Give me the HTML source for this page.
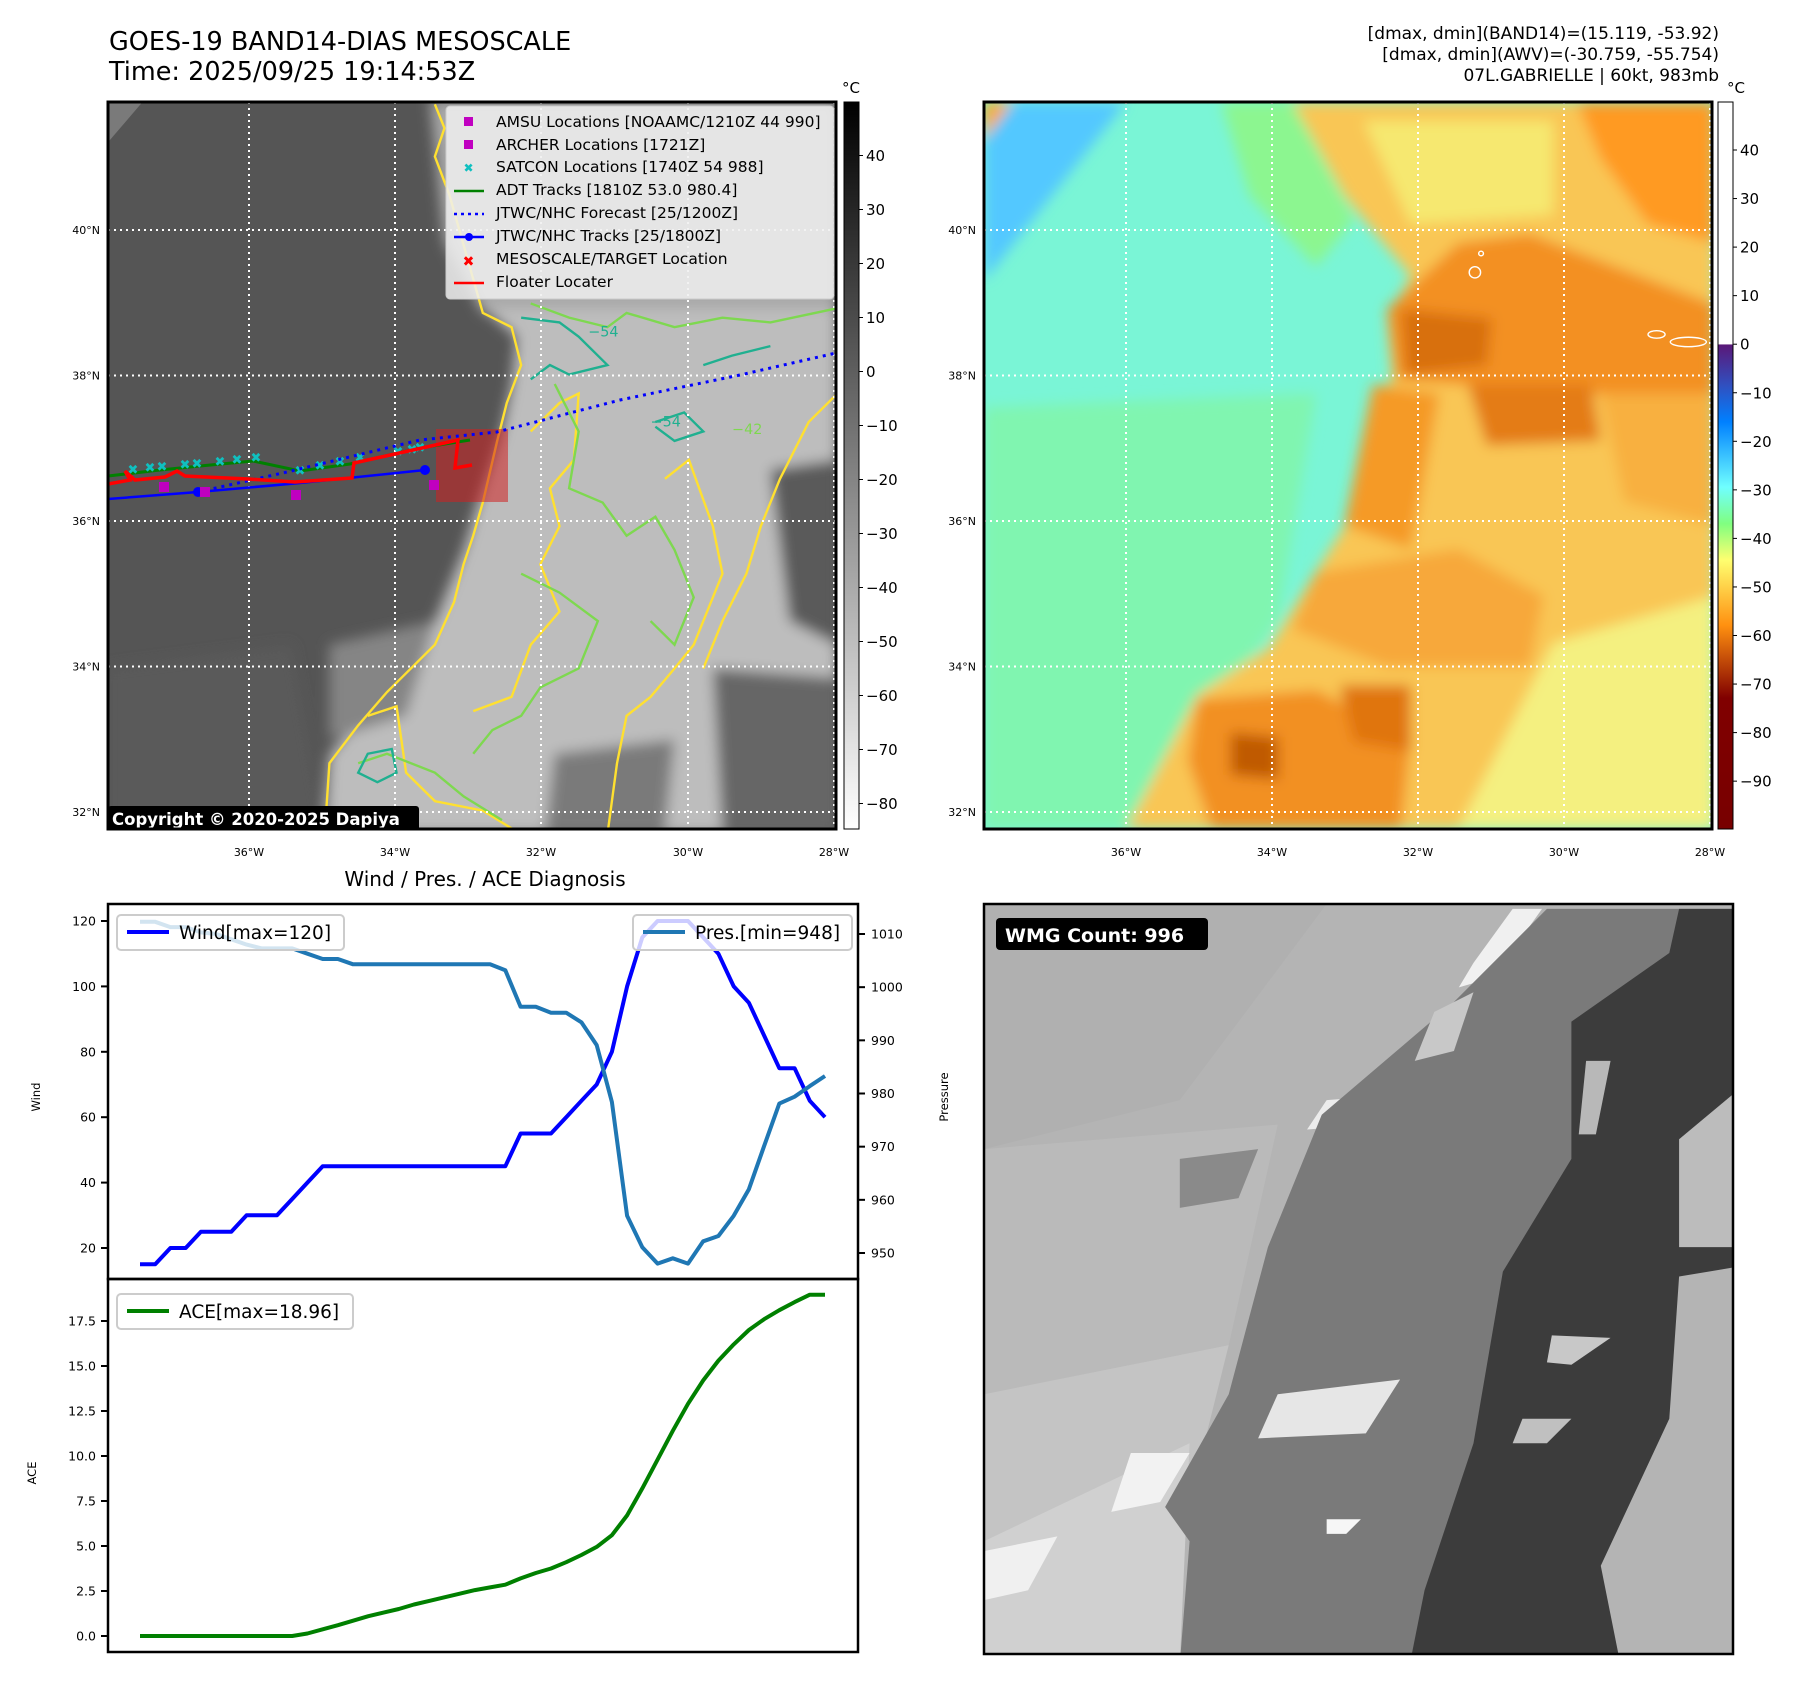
<!DOCTYPE html>
<html><head><meta charset="utf-8">
<style>
html,body{margin:0;padding:0;background:#fff;}
svg{display:block;font-family:"DejaVu Sans","Liberation Sans",sans-serif;}
</style></head>
<body>
<svg id="fig" width="1801" height="1690" viewBox="0 0 1801 1690" xmlns="http://www.w3.org/2000/svg">
<defs>
  <clipPath id="c1"><rect x="108" y="102" width="728" height="727"/></clipPath>
  <clipPath id="c2"><rect x="984" y="102" width="728" height="727"/></clipPath>
  <clipPath id="c3"><rect x="984" y="904" width="749" height="750"/></clipPath>
  <filter id="blur6" x="-20%" y="-20%" width="140%" height="140%"><feGaussianBlur stdDeviation="14"/></filter>
  <linearGradient id="cb1g" x1="0" y1="0" x2="0" y2="1">
    <stop offset="0" stop-color="#000"/><stop offset="1" stop-color="#fff"/>
  </linearGradient>
  <linearGradient id="cb2g" x1="0" y1="0" x2="0" y2="1">
    <stop offset="0" stop-color="#fff"/>
    <stop offset="0.333" stop-color="#fff"/>
    <stop offset="0.334" stop-color="#5a1878"/>
    <stop offset="0.39" stop-color="#3050c0"/>
    <stop offset="0.44" stop-color="#0080ff"/>
    <stop offset="0.53" stop-color="#70ffff"/>
    <stop offset="0.58" stop-color="#80ff80"/>
    <stop offset="0.63" stop-color="#ffff70"/>
    <stop offset="0.72" stop-color="#ff9010"/>
    <stop offset="0.82" stop-color="#800000"/>
    <stop offset="1" stop-color="#780000"/>
  </linearGradient>
</defs>

<text x="109" y="50" font-size="25.5">GOES-19 BAND14-DIAS MESOSCALE</text>
<text x="109" y="80" font-size="25.5">Time: 2025/09/25 19:14:53Z</text>
<g font-size="17" text-anchor="end">
  <text x="1719" y="39">[dmax, dmin](BAND14)=(15.119, -53.92)</text>
  <text x="1719" y="60">[dmax, dmin](AWV)=(-30.759, -55.754)</text>
  <text x="1719" y="81">07L.GABRIELLE | 60kt, 983mb</text>
</g>

<!-- ===== MAP 1 (grayscale IR) ===== -->
<g clip-path="url(#c1)">
  <rect x="108" y="102" width="728" height="727" fill="#555"/>
  <g transform="translate(108,102) scale(0.4793,0.4740) translate(-18,-5)">
    <polygon points="18,5 90,5 18,90" fill="#7a7a7a"/>
    <g filter="url(#blur6)">
      <polygon points="690,0 1540,0 1540,440 800,450 720,300" fill="#a8a8a8"/>
      <polygon points="800,440 1540,440 1540,1550 470,1550 480,1380 600,1250 700,1100 760,950 790,850 840,700 860,600 870,500" fill="#bdbdbd"/>
      <polygon points="1400,780 1540,760 1540,1150 1440,1100" fill="#5a5a5a"/>
      <polygon points="1280,1200 1540,1220 1540,1550 1300,1550" fill="#666"/>
      <polygon points="950,1380 1200,1350 1180,1550 930,1550" fill="#7a7a7a"/>
      <polygon points="480,1150 700,1100 640,1300 480,1350" fill="#858585"/>
      <polygon points="18,1200 400,1150 470,1550 18,1550" fill="#5a5a5a"/>
    </g>
    <g fill="none" stroke-width="5">
      <polyline stroke="#ffe030" points="700,10 720,60 700,120 730,200 800,450 860,480 880,560 850,640 830,720 800,850 780,920 760,980 740,1060 700,1150 600,1250 540,1320 480,1400 470,1550"/>
      <polyline stroke="#ffe030" points="900,700 960,640 1000,620 990,760 940,820 960,900 920,980 960,1080 900,1150 860,1260 780,1290"/>
      <polyline stroke="#ffe030" points="1180,800 1230,760 1280,900 1300,1000 1240,1150 1200,1200 1150,1260 1100,1300 1080,1400 1060,1550"/>
      <polyline stroke="#ffe030" points="1540,620 1480,680 1420,800 1380,900 1350,1000 1300,1100 1260,1200"/>
      <polyline stroke="#ffe030" points="560,1300 620,1280 640,1420 700,1480 800,1500 880,1550"/>
      <polyline stroke="#7ed850" points="900,430 980,460 1060,480 1100,450 1200,480 1300,460 1400,470 1540,440"/>
      <polyline stroke="#7ed850" points="950,600 1000,700 980,820 1050,850 1100,920 1160,880 1200,950 1240,1050 1200,1150 1150,1100"/>
      <polyline stroke="#7ed850" points="880,1000 960,1040 1040,1100 1000,1200 920,1240 880,1300 820,1330 780,1380"/>
      <polyline stroke="#7ed850" points="540,1400 600,1380 700,1420 760,1470 840,1520"/>
      <polyline stroke="#20b090" points="880,460 960,470 1000,500 1060,560 980,580 940,560 900,590"/>
      <polyline stroke="#20b090" points="1160,680 1220,660 1260,700 1200,720 1160,690"/>
      <polygon stroke="#20b090" points="560,1380 610,1370 620,1420 580,1440 540,1420"/>
      <polyline stroke="#20b090" points="1260,560 1320,540 1400,520"/>
    </g>
    <g font-size="30" fill="#20b090">
      <text x="1150" y="690">−54</text><text x="1020" y="500">−54</text>
    </g>
    <g font-size="30" fill="#7ed850"><text x="1320" y="705">−42</text></g>
  </g>
  <g stroke="#fff" stroke-width="2" stroke-dasharray="2,4">
    <line x1="249" y1="102" x2="249" y2="829"/><line x1="395" y1="102" x2="395" y2="829"/>
    <line x1="541" y1="102" x2="541" y2="829"/><line x1="688" y1="102" x2="688" y2="829"/>
    <line x1="834" y1="102" x2="834" y2="829"/>
    <line x1="108" y1="230" x2="836" y2="230"/><line x1="108" y1="375.5" x2="836" y2="375.5"/>
    <line x1="108" y1="521" x2="836" y2="521"/><line x1="108" y1="666.5" x2="836" y2="666.5"/>
    <line x1="108" y1="812" x2="836" y2="812"/>
  </g>
  <rect x="436" y="429" width="72" height="73" fill="#d02020" fill-opacity="0.55"/>
  <polyline fill="none" stroke="#008000" stroke-width="3" points="108,476 160,470 200,466 253,461 300,471 350,464 420,448 470,440"/>
  <g fill="#10c0c0" font-size="13" font-weight="bold" text-anchor="middle">
    <text x="133" y="474">✖</text><text x="150" y="472">✖</text><text x="162" y="471">✖</text><text x="185" y="469">✖</text><text x="197" y="468">✖</text><text x="220" y="466">✖</text><text x="237" y="464">✖</text><text x="256" y="462">✖</text><text x="300" y="475">✖</text><text x="320" y="470">✖</text><text x="340" y="466">✖</text><text x="360" y="462">✖</text><text x="398" y="456">✖</text><text x="412" y="454">✖</text><text x="420" y="452">✖</text>
  </g>
  <polyline fill="none" stroke="#0000ff" stroke-width="3" stroke-dasharray="3,5" points="198,492 287,472 420,440 497,432 620,400 740,375 836,353"/>
  <polyline fill="none" stroke="#0000ff" stroke-width="2.5" points="108,499 198,492 300,483 425,470"/>
  <circle cx="198" cy="492" r="5" fill="#0000ff"/><circle cx="425" cy="470" r="5" fill="#0000ff"/>
  <polyline fill="none" stroke="#ff0000" stroke-width="3.5" points="108,484 130,480 125,471 135,480 165,477 177,471 185,476 248,479 295,482 352,478 354,463 458,440 455,468 472,465"/>
  <g fill="#c000c0">
    <rect x="159" y="482" width="10" height="10"/><rect x="200" y="487" width="10" height="10"/><rect x="291" y="490" width="10" height="10"/><rect x="429" y="480" width="10" height="10"/>
  </g>
  <g>
    <rect x="446" y="106" width="388" height="193" rx="4" fill="#f0f0f0" fill-opacity="0.85" stroke="#ccc"/>
    <rect x="464" y="117" width="9" height="9" fill="#c000c0"/>
    <rect x="464" y="140" width="9" height="9" fill="#c000c0"/>
    <text x="468.5" y="172" font-size="12" fill="#10c0c0" text-anchor="middle" font-weight="bold">✖</text>
    <line x1="454" y1="191" x2="484" y2="191" stroke="#008000" stroke-width="2.5"/>
    <line x1="454" y1="214" x2="484" y2="214" stroke="#0000ff" stroke-width="2.5" stroke-dasharray="3,4"/>
    <line x1="454" y1="237" x2="484" y2="237" stroke="#0000ff" stroke-width="2.5"/><circle cx="469" cy="237" r="4" fill="#0000ff"/>
    <text x="468.5" y="266" font-size="14" fill="#ff0000" text-anchor="middle" font-weight="bold">✖</text>
    <line x1="454" y1="283" x2="484" y2="283" stroke="#ff0000" stroke-width="2.5"/>
    <g font-size="15.5" fill="#000">
      <text x="496" y="127">AMSU Locations [NOAAMC/1210Z 44 990]</text>
      <text x="496" y="150">ARCHER Locations [1721Z]</text>
      <text x="496" y="172">SATCON Locations [1740Z 54 988]</text>
      <text x="496" y="195">ADT Tracks [1810Z 53.0 980.4]</text>
      <text x="496" y="218">JTWC/NHC Forecast [25/1200Z]</text>
      <text x="496" y="241">JTWC/NHC Tracks [25/1800Z]</text>
      <text x="496" y="264">MESOSCALE/TARGET Location</text>
      <text x="496" y="287">Floater Locater</text>
    </g>
  </g>
  <g>
    <rect x="108" y="806" width="311" height="25" rx="3" fill="#000"/>
    <text x="112" y="825" font-size="16.5" font-weight="bold" fill="#fff">Copyright © 2020-2025 Dapiya</text>
  </g>
</g>
<rect x="108" y="102" width="728" height="727" fill="none" stroke="#000" stroke-width="3"/>

<!-- ===== MAP 2 (color) ===== -->
<g clip-path="url(#c2)">
  <rect x="984" y="102" width="728" height="727" fill="#7af5d6"/>
  <g transform="translate(984,102) scale(0.4743,0.4705)">
    <g filter="url(#blur6)">
      <polygon points="0,650 700,620 620,1100 300,1545 0,1545" fill="#80f5b0"/>
      <polygon points="0,0 300,0 0,380" fill="#52c8ff"/>
      <polygon points="500,0 650,0 780,250 700,350 560,200" fill="#8cf690"/>
      <polygon points="650,0 1540,0 1540,1545 300,1545 450,1260 600,1160 780,870 860,580 850,460 900,370 760,200" fill="#f9c655"/>
      <polygon points="800,40 1200,40 1200,240 900,260" fill="#f6e870"/>
      <polygon points="1250,0 1540,0 1540,300 1400,260 1300,120" fill="#ff9a20"/>
      <polygon points="850,440 1000,300 1150,280 1540,430 1540,620 1300,620 1000,600 870,590" fill="#f39020"/>
      <polygon points="880,440 1070,460 1060,560 890,580" fill="#d87010"/>
      <polygon points="1020,600 1280,600 1300,720 1060,730" fill="#e47c14"/>
      <polygon points="820,600 960,620 900,950 760,900" fill="#f59a28"/>
      <polygon points="1300,620 1540,620 1540,900 1350,850" fill="#f8b040"/>
      <polygon points="700,1000 1000,950 1180,1050 1150,1200 850,1200 650,1120" fill="#f7a83a"/>
      <polygon points="450,1270 700,1250 900,1350 880,1545 480,1545 430,1400" fill="#f29020"/>
      <polygon points="520,1340 620,1350 620,1440 520,1430" fill="#c05a06"/>
      <polygon points="750,1240 900,1240 900,1380 780,1360" fill="#e07410"/>
      <polygon points="1200,1150 1540,1050 1540,1545 1000,1545" fill="#f4f080"/>
      <polygon points="0,0 60,0 0,80" fill="#ffa828"/>
    </g>
    <g fill="none" stroke="#fff" stroke-width="3">
      <ellipse cx="1035" cy="362" rx="12" ry="12"/><circle cx="1048" cy="322" r="5"/>
      <ellipse cx="1418" cy="494" rx="18" ry="8"/><ellipse cx="1485" cy="510" rx="38" ry="10"/>
    </g>
  </g>
  <g stroke="#fff" stroke-width="2" stroke-dasharray="2,4">
    <line x1="1126" y1="102" x2="1126" y2="829"/><line x1="1272" y1="102" x2="1272" y2="829"/>
    <line x1="1418" y1="102" x2="1418" y2="829"/><line x1="1564" y1="102" x2="1564" y2="829"/>
    <line x1="1710" y1="102" x2="1710" y2="829"/>
    <line x1="984" y1="230" x2="1712" y2="230"/><line x1="984" y1="375.5" x2="1712" y2="375.5"/>
    <line x1="984" y1="521" x2="1712" y2="521"/><line x1="984" y1="666.5" x2="1712" y2="666.5"/>
    <line x1="984" y1="812" x2="1712" y2="812"/>
  </g>
</g>
<rect x="984" y="102" width="728" height="727" fill="none" stroke="#000" stroke-width="3"/>

<g>
  <rect x="844" y="102" width="15" height="727" fill="url(#cb1g)" stroke="#000" stroke-width="1"/>
  <text x="851" y="93" font-size="15" text-anchor="middle">°C</text>
  <g id="cb1ticks" font-size="15"></g>
</g>
<g>
  <rect x="1718" y="102" width="15" height="727" fill="url(#cb2g)" stroke="#000" stroke-width="1"/>
  <text x="1736" y="93" font-size="15" text-anchor="middle">°C</text>
  <g id="cb2ticks" font-size="15"></g>
</g>
<g id="maplabels" font-size="11"></g>

<text x="485" y="886" font-size="20" text-anchor="middle">Wind / Pres. / ACE Diagnosis</text>
<g id="chart"></g>

<!-- ===== WMG panel ===== -->
<g clip-path="url(#c3)">
  <rect x="984" y="904" width="749" height="750" fill="#b4b4b4"/>
  <g transform="translate(984,904) scale(0.4895,0.4902)">
    <polygon points="0,0 700,0 400,400 0,500" fill="#b0b0b0"/>
    <polygon points="0,500 600,450 500,900 0,1000" fill="#bababa"/>
    <polygon points="0,1000 500,900 400,1300 0,1400" fill="#c4c4c4"/>
    <polygon points="0,1300 420,1100 400,1550 0,1550" fill="#d0d0d0"/>
    <polygon points="0,1320 150,1290 90,1400 0,1420" fill="#f0f0f0"/>
    <polygon points="300,1120 420,1120 360,1220 260,1240" fill="#f2f2f2"/>
    <polygon points="1140,10 1040,150 970,170 1000,120 1080,10" fill="#f0f0f0"/>
    <polygon points="700,400 960,380 920,440 660,460" fill="#ececec"/>
    <polygon points="1150,10 1540,10 1540,1550 400,1550 420,1300 370,1230 500,1000 580,700 690,430 960,200" fill="#7a7a7a"/>
    <polygon points="600,1000 850,970 780,1080 560,1090" fill="#e6e6e6"/>
    <polygon points="920,220 1000,180 960,300 880,320" fill="#c8c8c8"/>
    <polygon points="1420,10 1540,10 1540,1550 870,1550 900,1400 1000,1100 1060,750 1200,520 1200,240 1400,100" fill="#3c3c3c"/>
    <polygon points="1420,480 1540,380 1540,700 1420,700" fill="#bcbcbc"/>
    <polygon points="1160,880 1280,885 1200,940 1150,935" fill="#c8c8c8"/>
    <polygon points="1100,1050 1200,1050 1150,1100 1080,1100" fill="#c0c0c0"/>
    <polygon points="1420,760 1540,740 1540,1550 1300,1550 1260,1350 1400,1050" fill="#b4b4b4"/>
    <polygon points="1230,320 1280,320 1250,470 1215,470" fill="#b8b8b8"/>
    <polygon points="700,1255 770,1255 740,1285 700,1285" fill="#f6f6f6"/>
    <polygon points="400,520 560,500 520,600 400,620" fill="#8a8a8a"/>
  </g>
  <g>
    <rect x="996" y="918" width="212" height="32" rx="4" fill="#000"/>
    <text x="1005" y="942" font-size="19" font-weight="bold" fill="#fff">WMG Count: 996</text>
  </g>
</g>
<rect x="984" y="904" width="749" height="750" fill="none" stroke="#000" stroke-width="2.5"/>
</svg>

<script>
const windVals = [15,15,20,20,25,25,25,30,30,30,35,40,45,45,45,45,45,45,45,45,45,45,45,45,45,55,55,55,60,65,70,80,100,115,120,120,120,115,110,100,95,85,75,75,65,60];
const presVals = [1012.3,1012.3,1011.3,1011.3,1010.3,1010,1009,1008,1007.3,1007.3,1007.3,1006.3,1005.3,1005.3,1004.3,1004.3,1004.3,1004.3,1004.3,1004.3,1004.3,1004.3,1004.3,1004.3,1003.2,996.3,996.3,995.2,995.2,993.4,989.1,978.4,957,951.1,948,949,948,952.2,953.2,957,962,970.1,978.1,979.4,981.4,983.3];
const aceVals = [0,0,0,0,0,0,0,0,0,0,0,0.14,0.37,0.6,0.85,1.1,1.3,1.5,1.75,1.95,2.15,2.35,2.55,2.7,2.85,3.2,3.5,3.75,4.1,4.5,4.95,5.6,6.7,8.2,9.8,11.4,12.9,14.2,15.3,16.2,17.0,17.6,18.1,18.55,18.96,18.96];
const windTicks = [20,40,60,80,100,120];
const presTicks = [950,960,970,980,990,1000,1010];
const aceTicks = [0.0,2.5,5.0,7.5,10.0,12.5,15.0,17.5];
const cb1Ticks = [40,30,20,10,0,-10,-20,-30,-40,-50,-60,-70,-80];
const cb2Ticks = [40,30,20,10,0,-10,-20,-30,-40,-50,-60,-70,-80,-90];
const latLabels = ["40°N","38°N","36°N","34°N","32°N"];
const lonLabels = ["36°W","34°W","32°W","30°W","28°W"];

const NS='http://www.w3.org/2000/svg';
function mk(tag, attrs, parent){const e=document.createElementNS(NS,tag);for(const k in attrs)e.setAttribute(k,attrs[k]);parent.appendChild(e);return e;}
function fmtNeg(v){return v<0?'\u2212'+Math.abs(v):String(v);}

const L=108,R=858,T1=904,B1=1279,T2=1279,B2=1652;
const xS=i=>140+i*(825-140)/(windVals.length-1);
const yWind=v=>1248-(v-20)*(1248-921)/100;
const yPres=v=>1253-(v-950)*(1253-934)/60;
const yAce=v=>1636-v*(1636-1321)/17.5;

const ch=document.getElementById('chart');
function poly(vals,yf,color,name){
  const pts=vals.map((v,i)=>xS(i).toFixed(1)+','+yf(v).toFixed(1)).join(' ');
  const p=mk('polyline',{points:pts,fill:'none',stroke:color,'stroke-width':4,'stroke-linejoin':'round'},ch);
  
  
}
poly(windVals,yWind,'#0000ff','wind-line');
poly(presVals,yPres,'#1f77b4','pressure-line');
poly(aceVals,yAce,'#008000','ace-line');

function tickL(v,yf,lab){const y=yf(v);mk('line',{x1:L-7,y1:y,x2:L,y2:y,stroke:'#000','stroke-width':2},ch);const t=mk('text',{x:L-12,y:y+4.5,'font-size':12.5,'text-anchor':'end'},ch);t.textContent=lab;}
windTicks.forEach(v=>tickL(v,yWind,String(v)));
aceTicks.forEach(v=>tickL(v,yAce,v.toFixed(1)));
presTicks.forEach(v=>{const y=yPres(v);mk('line',{x1:R,y1:y,x2:R+7,y2:y,stroke:'#000','stroke-width':2},ch);const t=mk('text',{x:R+13,y:y+4.5,'font-size':12.5},ch);t.textContent=String(v);});

mk('rect',{x:L,y:T1,width:R-L,height:B1-T1,fill:'none',stroke:'#000','stroke-width':2.5},ch);
mk('rect',{x:L,y:T2,width:R-L,height:B2-T2,fill:'none',stroke:'#000','stroke-width':2.5},ch);

function ylab(x,y,txt,name){const t=mk('text',{x:x,y:y,'font-size':11.5,'text-anchor':'middle',transform:'rotate(-90 '+x+' '+y+')'},ch);t.textContent=txt;}
ylab(40,1097,'Wind','wind-axis-title');
ylab(948,1097,'Pressure','pressure-axis-title');
ylab(36,1473,'ACE','ace-axis-title');

function legend(x,y,w,color,label,name){
  const g=mk('g',{},ch);
  
  
  mk('rect',{x:x,y:y,width:w,height:35,rx:4,fill:'#fff','fill-opacity':0.8,stroke:'#ccc','stroke-width':2},g);
  mk('line',{x1:x+10,y1:y+17,x2:x+52,y2:y+17,stroke:color,'stroke-width':4},g);
  const t=mk('text',{x:x+62,y:y+24,'font-size':18.5},g);t.textContent=label;
}
legend(117,915,227,'#0000ff','Wind[max=120]','wind-legend');
legend(633,915,219,'#1f77b4','Pres.[min=948]','pressure-legend');
legend(117,1294,236,'#008000','ACE[max=18.96]','ace-legend');

const cb1=document.getElementById('cb1ticks');
cb1Ticks.forEach(v=>{const y=155.5+(40-v)*5.4;mk('line',{x1:859,y1:y,x2:863,y2:y,stroke:'#000'},cb1);const t=mk('text',{x:866,y:y+5.5},cb1);t.textContent=fmtNeg(v);});
const cb2=document.getElementById('cb2ticks');
cb2Ticks.forEach(v=>{const y=150+(40-v)*4.855;mk('line',{x1:1733,y1:y,x2:1737,y2:y,stroke:'#000'},cb2);const t=mk('text',{x:1740,y:y+5.5},cb2);t.textContent=fmtNeg(v);});

const ml=document.getElementById('maplabels');
const latY=[230,375.5,521,666.5,812];
const lon1=[249,395,541,688,834], lon2=[1126,1272,1418,1564,1710];
latLabels.forEach((s,i)=>{
  let t=mk('text',{x:100,y:latY[i]+4,'text-anchor':'end'},ml);t.textContent=s;
  t=mk('text',{x:976,y:latY[i]+4,'text-anchor':'end'},ml);t.textContent=s;
});
lonLabels.forEach((s,i)=>{
  let t=mk('text',{x:lon1[i],y:856,'text-anchor':'middle'},ml);t.textContent=s;
  t=mk('text',{x:lon2[i],y:856,'text-anchor':'middle'},ml);t.textContent=s;
});
</script>
</body></html>
